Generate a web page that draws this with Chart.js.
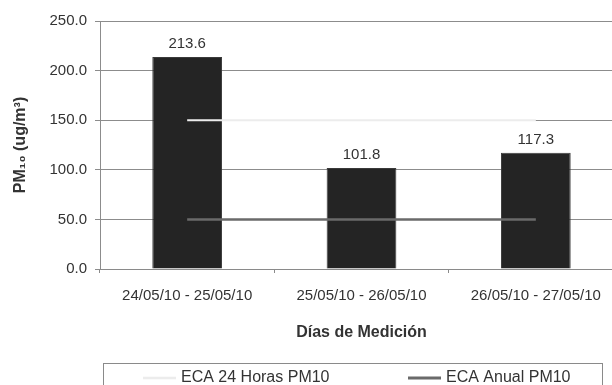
<!DOCTYPE html>
<html>
<head>
<meta charset="utf-8">
<script src="https://cdn.jsdelivr.net/npm/chart.js@4"></script>
<style>
  html, body { margin: 0; padding: 0; background: #fff; }
  #wrap { width: 612px; height: 385px; overflow: hidden; position: relative; }
  canvas { display: block; }
</style>
</head>
<body>
<div id="wrap"><canvas id="c" width="630" height="385" style="width:630px;height:385px"></canvas></div>
<script>
// PM10 daily averages per measurement period (ug/m3)
const categories = ['24/05/10 - 25/05/10', '25/05/10 - 26/05/10', '26/05/10 - 27/05/10'];
const pm10Values = [213.6, 101.8, 117.3];
// Air quality standards (ECA) for PM10
const eca24Horas = [150, 150, 150];
const ecaAnual = [50, 50, 50];
const yTickValues = [0, 50, 100, 150, 200, 250];

const FONT = "'Liberation Sans', Arial, 'DejaVu Sans', sans-serif";
const TEXT = '#333333';

// Value labels above each bar
const barValueLabels = {
  id: 'barValueLabels',
  afterDatasetsDraw(chart) {
    const ctx = chart.ctx;
    const meta = chart.getDatasetMeta(0);
    ctx.save();
    ctx.font = '15px ' + FONT;
    ctx.fillStyle = TEXT;
    ctx.textAlign = 'center';
    ctx.textBaseline = 'middle';
    meta.data.forEach((bar, i) => {
      const v = chart.data.datasets[0].data[i];
      ctx.fillText(v.toFixed(1), bar.x, bar.y - 13);
    });
    ctx.restore();
  }
};

// Boxed legend for the two standard lines
const boxedLegend = {
  id: 'boxedLegend',
  afterDraw(chart) {
    const ctx = chart.ctx;
    const items = [
      { ds: chart.data.datasets[1], x: 143 },
      { ds: chart.data.datasets[2], x: 408 }
    ];
    ctx.save();
    ctx.strokeStyle = '#8a8a8a';
    ctx.lineWidth = 1;
    ctx.strokeRect(103.5, 363.5, 499, 40);
    ctx.font = '16px ' + FONT;
    ctx.fillStyle = TEXT;
    ctx.textBaseline = 'middle';
    const y = 378;
    items.forEach(it => {
      ctx.strokeStyle = it.ds.borderColor;
      ctx.lineWidth = it.ds.borderWidth + 0.5;
      ctx.beginPath();
      ctx.moveTo(it.x, y);
      ctx.lineTo(it.x + 33, y);
      ctx.stroke();
      ctx.fillText(it.ds.label, it.x + 38, y);
    });
    ctx.restore();
  }
};

new Chart(document.getElementById('c'), {
  data: {
    labels: categories,
    datasets: [
      {
        type: 'bar',
        label: 'PM10',
        data: pm10Values,
        backgroundColor: '#242424',
        borderColor: '#3a3a3a',
        borderWidth: 1,
        barPercentage: 0.4,
        categoryPercentage: 1.0,
        order: 3
      },
      {
        type: 'line',
        label: 'ECA 24 Horas PM10',
        data: eca24Horas,
        borderColor: '#ececec',
        borderWidth: 2,
        pointRadius: 0,
        fill: false,
        order: 1
      },
      {
        type: 'line',
        label: 'ECA Anual PM10',
        data: ecaAnual,
        borderColor: '#6a6a6a',
        borderWidth: 2.5,
        pointRadius: 0,
        fill: false,
        order: 2
      }
    ]
  },
  options: {
    responsive: false,
    devicePixelRatio: 1,
    animation: false,
    layout: { padding: { top: 21, right: 7, left: 0, bottom: 0 } },
    plugins: {
      legend: { display: false },
      tooltip: { enabled: false },
      title: { display: false }
    },
    scales: {
      x: {
        offset: true,
        grid: { offset: true, drawOnChartArea: false, color: '#8a8a8a', tickLength: 4 },
        border: { color: '#8a8a8a', width: 1 },
        ticks: { color: TEXT, font: { family: FONT, size: 15 }, padding: 14, maxRotation: 0 },
        title: {
          display: true,
          text: 'Días de Medición',
          color: TEXT,
          font: { family: FONT, size: 16, weight: 'bold' },
          padding: { top: 0, bottom: 43 }
        },
        afterFit(scale) { scale.height = 116; }
      },
      y: {
        min: 0,
        max: 250,
        afterBuildTicks(scale) { scale.ticks = yTickValues.map(v => ({ value: v })); },
        grid: { color: '#8c8c8c', lineWidth: 1, tickLength: 5 },
        border: { color: '#8c8c8c', width: 1 },
        ticks: {
          color: TEXT,
          font: { family: FONT, size: 15 },
          padding: 8,
          callback: v => Number(v).toFixed(1)
        },
        title: {
          display: true,
          text: 'PM₁₀ (ug/m³)',
          color: TEXT,
          font: { family: FONT, size: 16, weight: 'bold' },
          padding: { top: 11, bottom: 0 }
        },
        afterFit(scale) { scale.width = 100; }
      }
    }
  },
  plugins: [barValueLabels, boxedLegend]
});
</script>
</body>
</html>
